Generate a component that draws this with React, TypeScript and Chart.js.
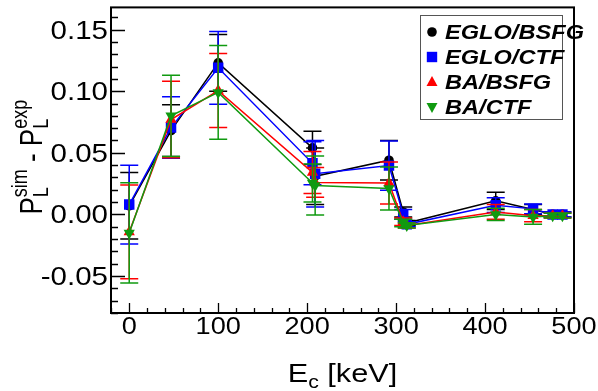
import React, { useEffect, useRef } from "react";
import { Chart, registerables } from "chart.js";

Chart.register(...registerables);

// ---- data ----
const energies = [0, 47, 100, 206, 209, 292, 308, 312, 412, 454, 476, 487];

const egloBsfg = [0.007, 0.068, 0.123, 0.054, 0.031, 0.044, 0.002, -0.007, 0.011, 0.004, 0.0, 0.0];
const egloBsfgErr = [0.027, 0.021, 0.023, 0.0135, 0.023, 0.016, 0.004, 0.002, 0.007, 0.004, 0.002, 0.002];

const egloCtf = [0.008, 0.0705, 0.119, 0.0415, 0.033, 0.0396, 0.0, -0.008, 0.0075, 0.0045, 0.0, 0.0];
const egloCtfErr = [0.032, 0.025, 0.0295, 0.0175, 0.027, 0.02, 0.004, 0.002, 0.006, 0.004, 0.002, 0.002];

const baBsfg = [-0.0142, 0.077, 0.1005, 0.034, 0.026, 0.0255, -0.006, -0.009, 0.002, -0.001, -0.001, -0.001];
const baBsfgErr = [0.038, 0.031, 0.03, 0.017, 0.012, 0.017, 0.003, 0.002, 0.006, 0.005, 0.002, 0.002];

const baCtf = [-0.015, 0.08, 0.099, 0.0255, 0.0235, 0.021, -0.007, -0.009, 0.0, -0.002, -0.001, -0.001];
const baCtfErr = [0.0406, 0.033, 0.038, 0.0155, 0.024, 0.0175, 0.003, 0.002, 0.005, 0.006, 0.002, 0.002];

const seriesNames = ["EGLO/BSFG", "EGLO/CTF", "BA/BSFG", "BA/CTF"];

const xMajorTicks = [0, 100, 200, 300, 400, 500];
const xTickLabels = ["0", "100", "200", "300", "400", "500"];
const yMajorTicks = [-0.05, 0, 0.05, 0.1, 0.15];
const yTickLabels = ["-0.05", "0.00", "0.05", "0.10", "0.15"];

const X_MIN = -20.5;
const X_MAX = 500;
const Y_MIN = -0.08;
const Y_MAX = 0.168;

const COLORS = ["#000000", "#0000ff", "#ff0000", "#109a10"];
const SX = 1.18; // horizontal text stretch of the reference

function drawMarker(ctx: CanvasRenderingContext2D, kind: number, x: number, y: number, color: string) {
  ctx.save();
  ctx.fillStyle = color;
  ctx.beginPath();
  if (kind === 0) {
    ctx.arc(x, y, 4.8, 0, Math.PI * 2);
  } else if (kind === 1) {
    ctx.rect(x - 5.2, y - 5.2, 10.4, 10.4);
  } else if (kind === 2) {
    ctx.moveTo(x, y - 6);
    ctx.lineTo(x + 5.5, y + 4);
    ctx.lineTo(x - 5.5, y + 4);
    ctx.closePath();
  } else {
    ctx.moveTo(x, y + 6);
    ctx.lineTo(x + 5.5, y - 4);
    ctx.lineTo(x - 5.5, y - 4);
    ctx.closePath();
  }
  ctx.fill();
  ctx.restore();
}

function stretchedText(
  ctx: CanvasRenderingContext2D,
  text: string,
  x: number,
  y: number,
  font: string,
  align: CanvasTextAlign
) {
  ctx.save();
  ctx.translate(x, y);
  ctx.scale(SX, 1);
  ctx.font = font;
  ctx.textAlign = align;
  ctx.textBaseline = "alphabetic";
  ctx.fillStyle = "#000";
  ctx.fillText(text, 0, 0);
  ctx.restore();
}

const errorBarPlugin = {
  id: "errorBars",
  beforeDatasetDraw(chart: any, args: any) {
    const ctx: CanvasRenderingContext2D = chart.ctx;
    const ds = chart.data.datasets[args.index];
    const xs = chart.scales.x;
    const ys = chart.scales.y;
    const area = chart.chartArea;
    ctx.save();
    ctx.beginPath();
    ctx.rect(area.left, area.top, area.right - area.left, area.bottom - area.top);
    ctx.clip();
    ctx.strokeStyle = ds.borderColor;
    ctx.lineWidth = 1.5;
    ds.data.forEach((p: any, i: number) => {
      const e = ds.errors[i];
      const px = xs.getPixelForValue(p.x);
      const top = ys.getPixelForValue(p.y + e);
      const bot = ys.getPixelForValue(p.y - e);
      ctx.beginPath();
      ctx.moveTo(px, top);
      ctx.lineTo(px, bot);
      ctx.moveTo(px - 9, top);
      ctx.lineTo(px + 9, top);
      ctx.moveTo(px - 9, bot);
      ctx.lineTo(px + 9, bot);
      ctx.stroke();
    });
    ctx.restore();
  },
};

const framePlugin = {
  id: "frameAxes",
  afterDraw(chart: any) {
    const ctx: CanvasRenderingContext2D = chart.ctx;
    const xs = chart.scales.x;
    const ys = chart.scales.y;
    const a = chart.chartArea;
    ctx.save();
    // frame
    ctx.strokeStyle = "#000";
    ctx.lineWidth = 2;
    ctx.strokeRect(a.left, a.top, a.right - a.left, a.bottom - a.top);

    // y ticks (inward from left axis)
    ctx.lineWidth = 1.3;
    ctx.beginPath();
    for (let v = -0.08; v <= 0.1601; v += 0.01) {
      const py = Math.round(ys.getPixelForValue(v)) + 0.5;
      ctx.moveTo(a.left, py);
      ctx.lineTo(a.left + 7, py);
    }
    yMajorTicks.forEach((v) => {
      const py = Math.round(ys.getPixelForValue(v)) + 0.5;
      ctx.moveTo(a.left, py);
      ctx.lineTo(a.left + 14, py);
    });
    // x ticks (inward from bottom axis)
    for (let v = -20; v <= 500; v += 20) {
      const px = Math.round(xs.getPixelForValue(v)) + 0.5;
      ctx.moveTo(px, a.bottom);
      ctx.lineTo(px, a.bottom - 5);
    }
    xMajorTicks.forEach((v) => {
      const px = Math.round(xs.getPixelForValue(v)) + 0.5;
      ctx.moveTo(px, a.bottom);
      ctx.lineTo(px, a.bottom - 10);
    });
    ctx.stroke();

    const tickFont = "25px 'Liberation Sans', Arial, sans-serif";
    yMajorTicks.forEach((v, i) => {
      const py = ys.getPixelForValue(v);
      stretchedText(ctx, yTickLabels[i], a.left - 3, py + 9, tickFont, "right");
    });
    const xTickFont = "23px 'Liberation Sans', Arial, sans-serif";
    xMajorTicks.forEach((v, i) => {
      const px = xs.getPixelForValue(v);
      stretchedText(ctx, xTickLabels[i], px, 334, xTickFont, "center");
    });

    // x title: E_c [keV]
    const tFont = "26px 'Liberation Sans', Arial, sans-serif";
    const sFont = "18px 'Liberation Sans', Arial, sans-serif";
    ctx.save();
    ctx.font = tFont;
    const wE = ctx.measureText("E").width;
    const wRest = ctx.measureText(" [keV]").width;
    ctx.font = sFont;
    const wc = ctx.measureText("c").width;
    ctx.restore();
    const totalW = (wE + wc + wRest) * SX;
    const cx = (a.left + a.right) / 2;
    const x0 = cx - totalW / 2;
    const base = 382;
    stretchedText(ctx, "E", x0, base, tFont, "left");
    stretchedText(ctx, "c", x0 + wE * SX, base + 6, sFont, "left");
    stretchedText(ctx, " [keV]", x0 + (wE + wc) * SX, base, tFont, "left");

    // y title: P_L^sim - P_L^exp (rotated)
    ctx.save();
    const cy = (a.top + a.bottom) / 2 - 3;
    ctx.translate(42, cy);
    ctx.scale(SX, 1);
    ctx.rotate(-Math.PI / 2);
    ctx.fillStyle = "#000";
    ctx.textBaseline = "alphabetic";
    ctx.textAlign = "left";
    const parts: [string, string, number][] = [
      ["P", tFont, 0],
      ["L", sFont, 5],
      ["sim", sFont, -13],
      [" - ", tFont, 0],
      ["P", tFont, 0],
      ["L", sFont, 5],
      ["exp", sFont, -13],
    ];
    const widths: number[] = [];
    parts.forEach(([t, f]) => {
      ctx.font = f;
      widths.push(ctx.measureText(t).width);
    });
    const adv = [widths[0], 0, Math.max(widths[1], widths[2]), widths[3], widths[4], 0, Math.max(widths[5], widths[6])];
    const total = adv.reduce((s, w) => s + w, 0);
    let u = -total / 2;
    parts.forEach(([t, f, dy], i) => {
      ctx.font = f;
      ctx.fillText(t, u, dy);
      u += adv[i];
    });
    ctx.restore();

    // legend
    const L = { left: 420, top: 15, right: 563, bottom: 120 };
    ctx.fillStyle = "#fff";
    ctx.fillRect(L.left, L.top, L.right - L.left, L.bottom - L.top);
    ctx.strokeStyle = "#555";
    ctx.lineWidth = 1;
    ctx.strokeRect(L.left + 0.5, L.top + 0.5, L.right - L.left - 1, L.bottom - L.top - 1);
    const rows = [32, 57, 82, 107];
    const lFont = "italic bold 20px 'Liberation Sans', Arial, sans-serif";
    seriesNames.forEach((name, i) => {
      drawMarker(ctx, i, 432, rows[i], COLORS[i]);
      stretchedText(ctx, name, 445, rows[i] + 7, lFont, "left");
    });
    ctx.restore();
  },
};

const seriesValues = [egloBsfg, egloCtf, baBsfg, baCtf];
const seriesErrors = [egloBsfgErr, egloCtfErr, baBsfgErr, baCtfErr];
const pointStyles = ["circle", "rect", "triangle", "triangle"];
const pointRadii = [4.8, 7.4, 6.5, 6.5];
const pointRot = [0, 0, 0, 180];

export default function App() {
  const ref = useRef<HTMLCanvasElement | null>(null);
  useEffect(() => {
    if (!ref.current) return;
    const datasets = seriesNames.map((name, s) => ({
      label: name,
      data: energies.map((e, i) => ({ x: e, y: seriesValues[s][i] })),
      errors: seriesErrors[s],
      borderColor: COLORS[s],
      backgroundColor: COLORS[s],
      pointBackgroundColor: COLORS[s],
      pointBorderColor: COLORS[s],
      pointBorderWidth: 0,
      pointStyle: pointStyles[s],
      pointRadius: pointRadii[s],
      pointRotation: pointRot[s],
      borderWidth: 1.5,
      tension: 0,
      order: 3 - s,
    }));
    const chart = new Chart(ref.current, {
      type: "line",
      data: { datasets } as any,
      options: {
        animation: false,
        responsive: false,
        maintainAspectRatio: false,
        layout: { padding: { left: 111, right: 24, top: 3, bottom: 78 } },
        plugins: { legend: { display: false }, tooltip: { enabled: false } },
        scales: {
          x: { type: "linear", min: X_MIN, max: X_MAX, display: false },
          y: { type: "linear", min: Y_MIN, max: Y_MAX, display: false },
        },
      },
      plugins: [errorBarPlugin, framePlugin],
    });
    return () => chart.destroy();
  }, []);
  return (
    <div style={{ position: "fixed", left: 0, top: 0, width: 598, height: 391, background: "#fff" }}>
      <canvas ref={ref} width={598} height={391} style={{ width: 598, height: 391 }} />
    </div>
  );
}
